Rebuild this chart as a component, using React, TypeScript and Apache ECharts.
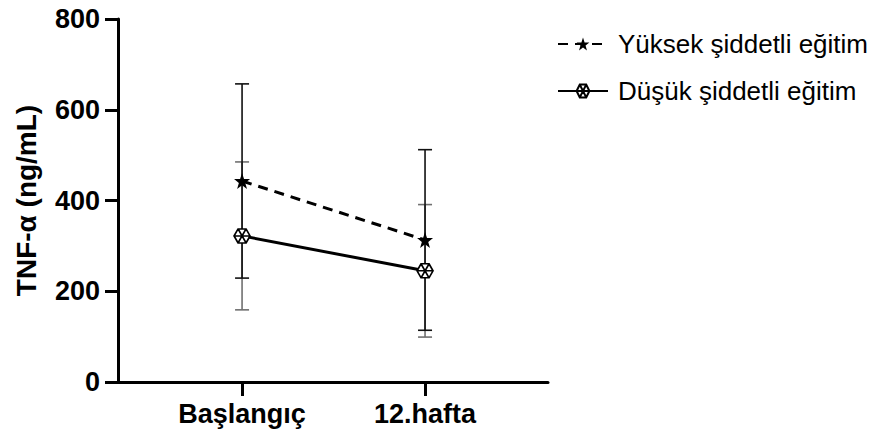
import React, { useEffect, useRef } from "react";
import * as echarts from "echarts";

const categories = ["Başlangıç", "12.hafta"];
const seriesNames = ["Yüksek şiddetli eğitim", "Düşük şiddetli eğitim"];
const highMean = [443, 313];
const highSD = [214, 199];
const lowMean = [322, 245];
const lowSD = [163, 146];
const yTicks = [0, 200, 400, 600, 800];
const yName = "TNF-α (ng/mL)";

const FONT = "'Liberation Sans', Arial, Helvetica, sans-serif";
const STAR =
  "path://M10 0 L12.35 6.76 L19.51 6.91 L13.8 11.24 L15.88 18.09 L10 14 L4.12 18.09 L6.2 11.24 L0.49 6.91 L7.65 6.76 Z";
const HEX =
  "path://M0 8.66 L5 0 L15 0 L20 8.66 L15 17.32 L5 17.32 Z M0 8.66 L20 8.66 M5 0 L15 17.32 M15 0 L5 17.32";

function errData(means: number[], sds: number[]) {
  return means.map((m, i) => [i + 1, m, sds[i]]);
}

function errSeries(name: string, means: number[], sds: number[], color: string, z: number) {
  return {
    type: "custom",
    name: name + "-err",
    z,
    data: errData(means, sds),
    encode: { x: 0, y: 1 },
    renderItem: (params: any, api: any) => {
      const x = api.value(0);
      const m = api.value(1);
      const s = api.value(2);
      const top = api.coord([x, m + s]);
      const bot = api.coord([x, m - s]);
      const style = { stroke: color, lineWidth: 1.6 };
      const cw = 7;
      return {
        type: "group",
        children: [
          { type: "line", shape: { x1: top[0], y1: top[1], x2: bot[0], y2: bot[1] }, style },
          { type: "line", shape: { x1: top[0] - cw, y1: top[1], x2: top[0] + cw, y2: top[1] }, style },
          { type: "line", shape: { x1: bot[0] - cw, y1: bot[1], x2: bot[0] + cw, y2: bot[1] }, style },
        ],
      };
    },
  };
}

export default function App() {
  const ref = useRef<HTMLDivElement>(null);
  useEffect(() => {
    if (!ref.current) return;
    const chart = echarts.init(ref.current, undefined, { renderer: "svg" });
    chart.setOption({
      animation: false,
      backgroundColor: "#ffffff",
      grid: { left: 118, right: 329, top: 19, bottom: 55, containLabel: false },
      legend: {
        data: seriesNames,
        orient: "vertical",
        left: 552,
        top: 26,
        itemWidth: 50,
        itemHeight: 16,
        itemGap: 21,
        textStyle: { fontSize: 26, color: "#000", fontFamily: FONT, padding: [0, 0, 0, 5] },
      },
      xAxis: {
        type: "value",
        min: 0.322,
        max: 2.672,
        splitLine: { show: false },
        axisLine: { show: true, onZero: false, lineStyle: { color: "#000", width: 3 } },
        axisTick: { show: true, length: 14, lineStyle: { color: "#000", width: 3 }, customValues: [1, 2] },
        axisLabel: {
          customValues: [1, 2],
          formatter: (v: number) => categories[Math.round(v) - 1] ?? "",
          fontSize: 27,
          fontWeight: "bold",
          color: "#000",
          fontFamily: FONT,
          margin: 18,
        },
      },
      yAxis: {
        type: "value",
        min: 0,
        max: 800,
        interval: 200,
        splitLine: { show: false },
        axisLine: { show: true, lineStyle: { color: "#000", width: 3 } },
        axisTick: { show: true, length: 13, lineStyle: { color: "#000", width: 3 } },
        axisLabel: {
          formatter: (v: number) => (yTicks.includes(v) ? String(v) : ""),
          fontSize: 27,
          fontWeight: "bold",
          color: "#000",
          fontFamily: FONT,
          margin: 18,
        },
        name: yName,
        nameLocation: "middle",
        nameRotate: 90,
        nameGap: 78,
        nameTextStyle: { fontSize: 28, fontWeight: "bold", color: "#000", fontFamily: FONT },
      },
      series: [
        errSeries(seriesNames[1], lowMean, lowSD, "#707070", 1),
        errSeries(seriesNames[0], highMean, highSD, "#111", 2),
        {
          type: "line",
          name: seriesNames[0],
          z: 4,
          data: highMean.map((v, i) => [i + 1, v]),
          symbol: STAR,
          symbolSize: 16,
          itemStyle: { color: "#000" },
          lineStyle: { color: "#000", width: 3, type: [10, 7] },
        },
        {
          type: "line",
          name: seriesNames[1],
          z: 3,
          data: lowMean.map((v, i) => [i + 1, v]),
          symbol: HEX,
          symbolSize: [16, 14],
          itemStyle: { color: "#fff", borderColor: "#000", borderWidth: 1.6 },
          lineStyle: { color: "#000", width: 3 },
        },
      ],
    });
    return () => chart.dispose();
  }, []);
  return (
    <div
      ref={ref}
      style={{ position: "absolute", left: 0, top: 0, width: 877, height: 437 }}
    />
  );
}
